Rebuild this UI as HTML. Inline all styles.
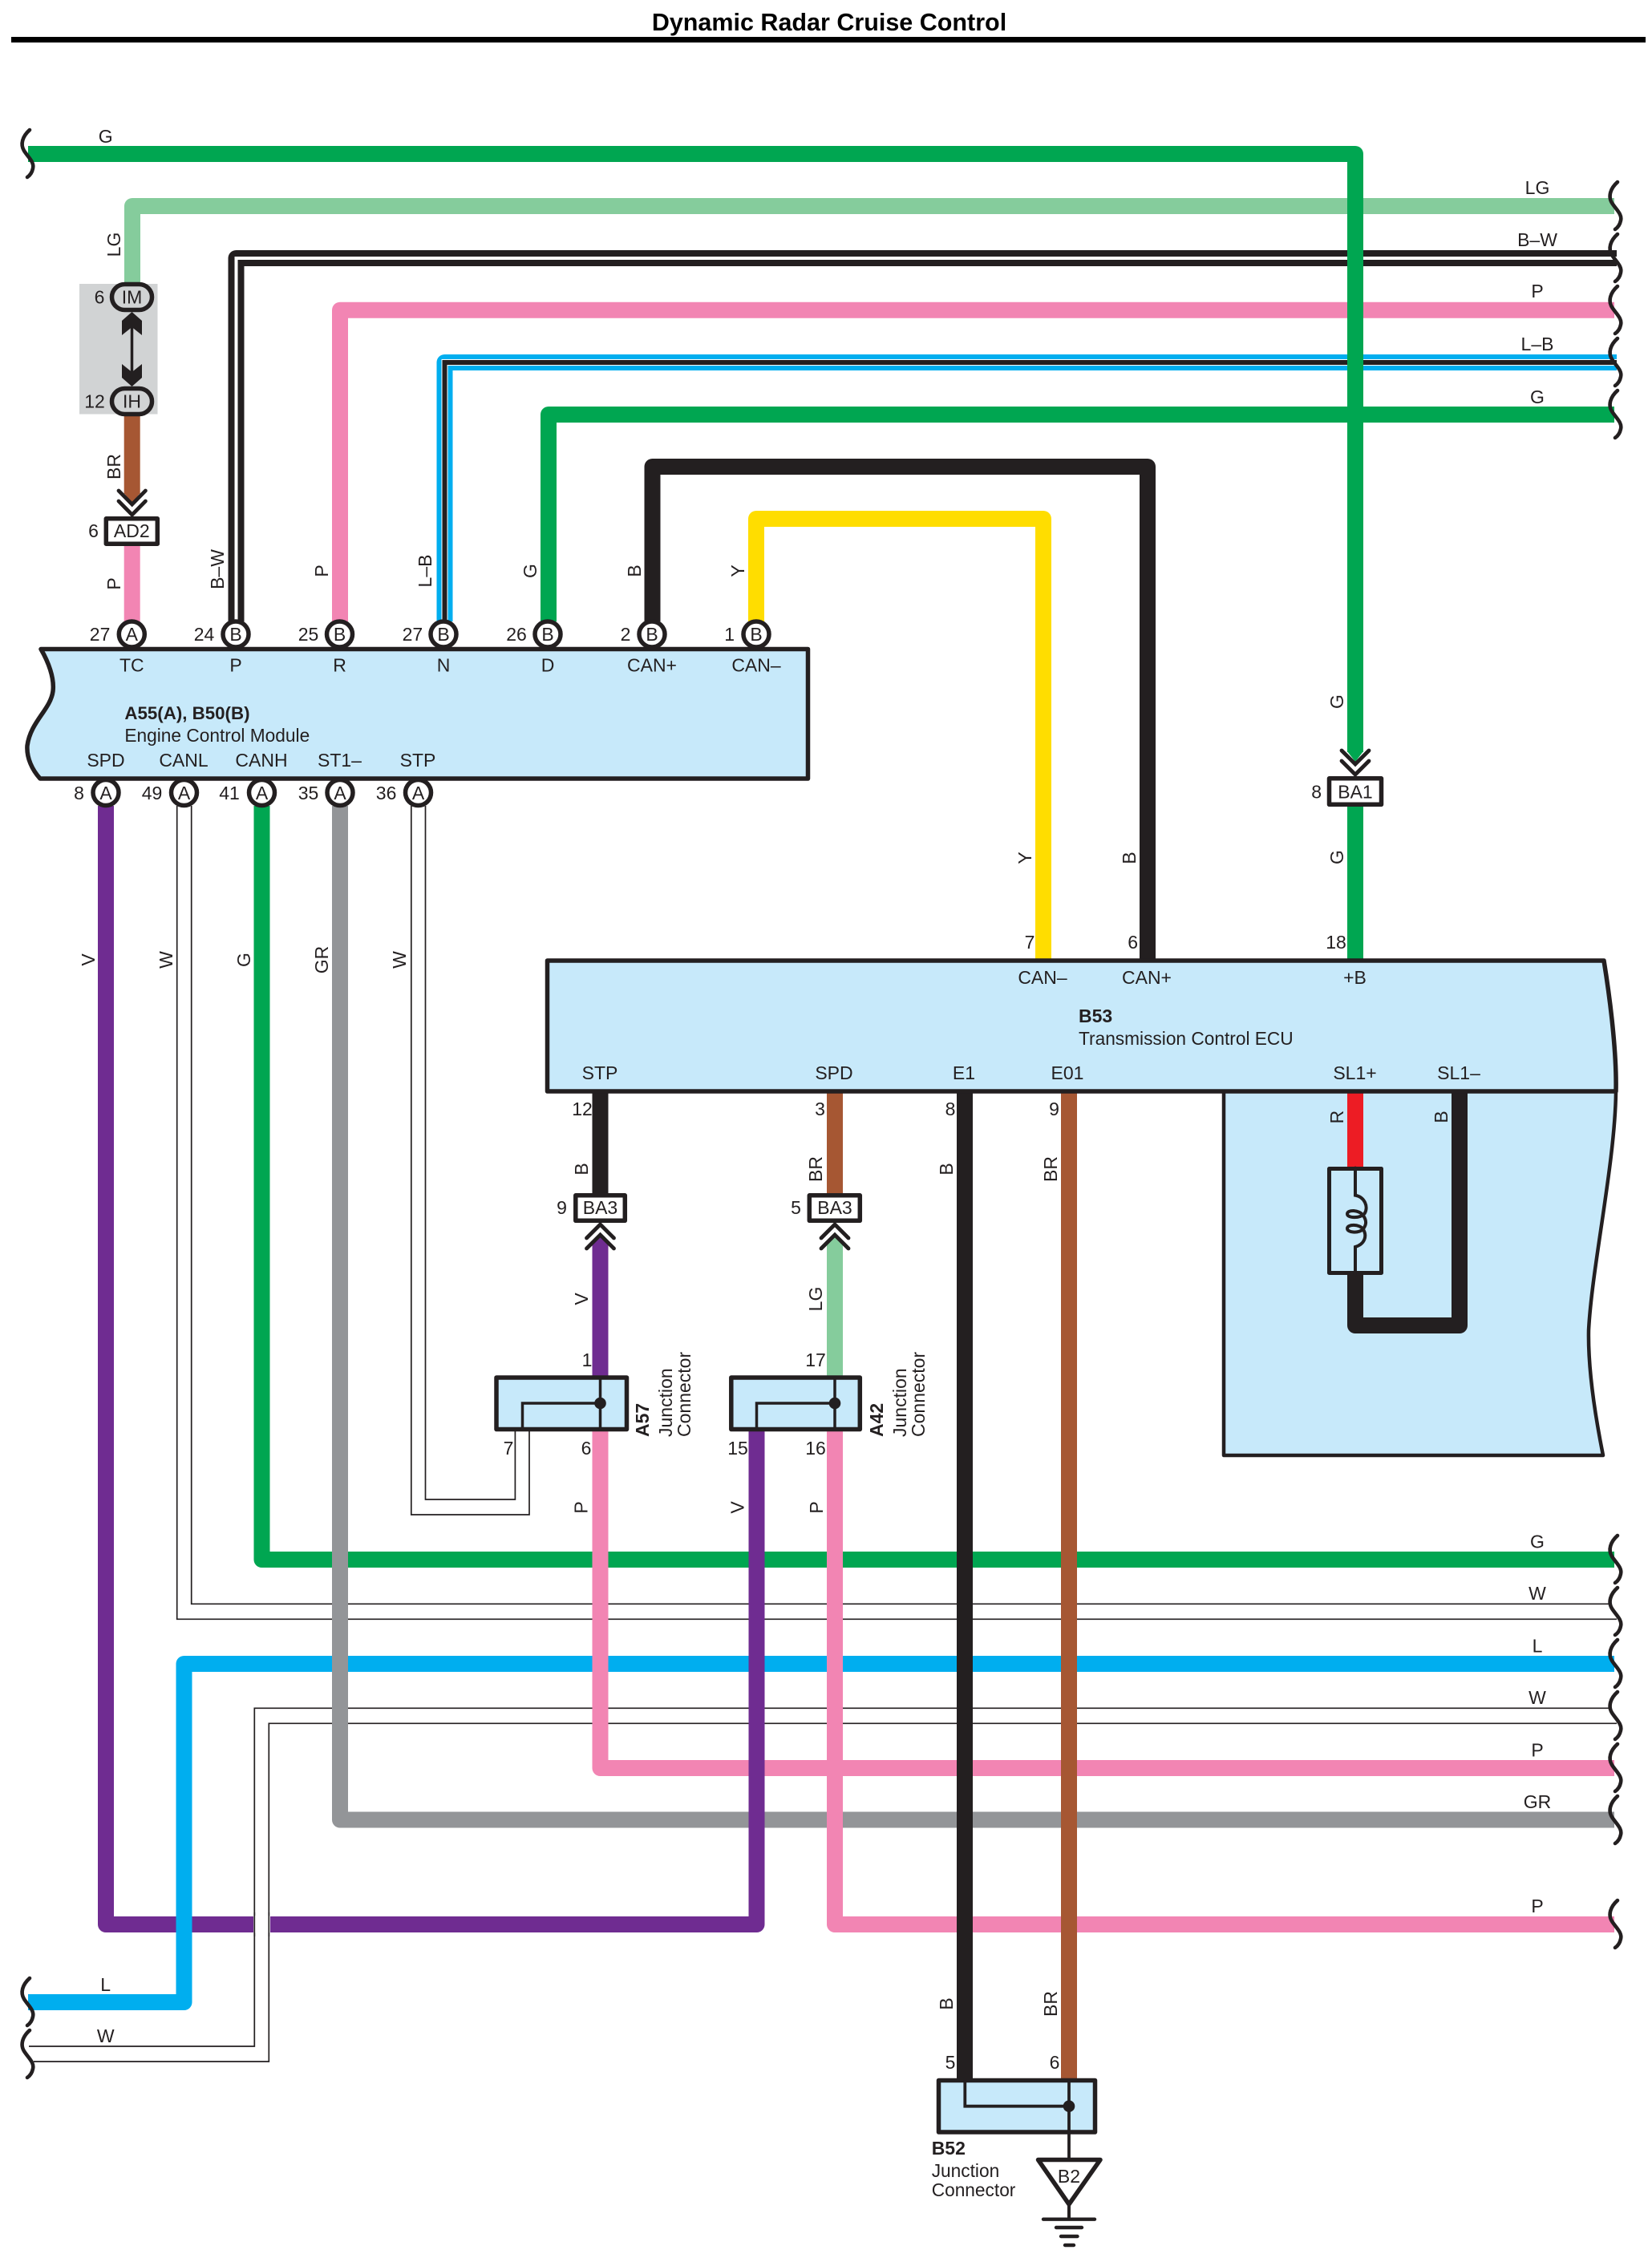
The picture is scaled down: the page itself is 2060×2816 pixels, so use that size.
<!DOCTYPE html>
<html>
<head>
<meta charset="utf-8">
<title>Dynamic Radar Cruise Control</title>
<style>
html,body{margin:0;padding:0;background:#fff;}
svg{display:block;}
text{font-family:"Liberation Sans",sans-serif;font-size:23px;fill:#231F20;text-anchor:middle;}
.s{text-anchor:start;}
.b{font-weight:bold;}
.w{fill:none;stroke-width:20;stroke-linejoin:round;}
.k{fill:none;stroke:#231F20;}
.th{fill:none;stroke:#231F20;stroke-width:1.7;}
.box{fill:#C7E9FA;stroke:#231F20;stroke-width:5.5;stroke-linejoin:round;}
.c{fill:#fff;stroke:#231F20;stroke-width:5.5;}
.ch{fill:none;stroke:#231F20;stroke-width:4.8;stroke-linecap:round;stroke-linejoin:miter;}
.sq{fill:none;stroke:#231F20;stroke-width:4.6;stroke-linecap:round;}
</style>
</head>
<body>
<svg xmlns="http://www.w3.org/2000/svg" width="2060" height="2816" viewBox="0 0 2060 2816">
<defs>
<path id="sq" class="sq" d="M3,-30 C-6,-22 -9,-12 -4,-4 C1,4 9,10 7,18 C6,23 3,27 0,29"/>
</defs>
<rect width="2060" height="2816" fill="#fff"/>

<text x="1034" y="38" class="b" style="font-size:30.5px;fill:#000">Dynamic Radar Cruise Control</text>
<rect x="14" y="46" width="2038" height="7" fill="#000"/>

<!-- thin W wires -->
<path class="th" d="M220.7 1005 V2019.3 H2016"/>
<path class="th" d="M238.7 1005 V2000.3 H2008"/>
<path class="th" d="M512.8 1005 V1889 H660 V1783"/>
<path class="th" d="M530.5 1005 V1870 H642.4 V1783"/>
<path class="th" d="M36 2552 H317.3 V2130.3 H2008"/>
<path class="th" d="M42 2571 H335.3 V2149.3 H2016"/>

<!-- top wires -->
<path class="w" stroke="#85CC9C" d="M165 355 V257 H2013"/>
<path class="w" stroke="#231F20" d="M294.5 775 V322 H2016"/>
<path fill="none" stroke="#fff" stroke-width="4" d="M294.5 775 V322 H2018"/>
<path class="w" stroke="#F285B3" d="M424 775 V386.7 H2013"/>
<path class="w" stroke="#00AEEF" d="M554.5 775 V452 H2016"/>
<path fill="none" stroke="#fff" stroke-width="8" d="M554.5 775 V452 H2016"/>
<path fill="none" stroke="#231F20" stroke-width="6" d="M554.5 775 V452 H2016"/>
<path class="w" stroke="#00A651" d="M684 775 V517 H2013"/>
<path class="w" stroke="#231F20" d="M813.5 775 V582 H1431 V1198"/>
<path class="w" stroke="#FFDD00" d="M943 775 V647 H1301 V1198"/>
<path class="w" stroke="#00A651" d="M35 192 H1690 V938"/>
<polygon fill="#00A651" points="1680,937 1700,937 1690,950"/>
<path class="w" stroke="#00A651" d="M1690 1004 V1198"/>

<!-- IM/IH -->
<rect x="99" y="354" width="97.5" height="162.5" fill="#D1D3D4"/>
<path class="w" stroke="#A65733" d="M164.7 515 V616"/>
<polygon fill="#A65733" points="154.7,615 174.7,615 164.7,627"/>
<path class="w" stroke="#F285B3" d="M164.7 678 V775"/>
<rect x="139.5" y="354.5" width="50" height="32" rx="16" class="c" style="fill:#D1D3D4"/>
<rect x="139.5" y="484.5" width="50" height="32" rx="16" class="c" style="fill:#D1D3D4"/>
<path stroke="#231F20" stroke-width="3.5" d="M164.5 400 V470"/>
<polygon fill="#231F20" points="164.5,389 177,400 177,418 164.5,408 152,418 152,400"/>
<polygon fill="#231F20" points="164.5,482 177,471 177,454 164.5,464 152,454 152,471"/>
<text x="164.5" y="378.5">IM</text>
<text x="164.5" y="508.5">IH</text>
<text x="124" y="378.5">6</text>
<text x="118" y="508.5">12</text>
<path class="ch" d="M148 612 L164.7 629 L181.4 612"/>
<path class="ch" d="M148 625 L164.7 642 L181.4 625"/>
<rect x="132.3" y="646.8" width="64" height="31.4" fill="#fff" stroke="#231F20" stroke-width="5.5" stroke-linejoin="round"/>
<text x="164.3" y="670">AD2</text>
<text x="116.5" y="670">6</text>

<!-- bottom bundle -->
<path class="w" stroke="#00A651" d="M326.5 1005 V1945 H2013"/>
<path class="w" stroke="#00AEEF" d="M35 2497 H229.5 V2075 H2013"/>
<path class="w" stroke="#F285B3" d="M748.5 1783 V2205 H2013"/>
<path class="w" stroke="#939598" d="M424 1005 V2269.5 H2013"/>
<path class="w" stroke="#F285B3" d="M1041 1783 V2400 H2013"/>
<path class="w" stroke="#6F2C91" d="M132 1005 V2400 H943.5 V1783"/>
<rect x="316" y="2389" width="21" height="21.5" fill="#fff"/>
<path class="th" d="M317.3 2385 V2415 M335.3 2385 V2415"/>
<path stroke="#00AEEF" stroke-width="20" d="M229.5 2385 V2420"/>

<!-- B53 lower box -->
<path d="M1526 1361 V1815 H1999 C1990 1770 1980 1710 1981 1659 C1985 1580 2014 1450 2015 1361 Z" fill="#C7E9FA" stroke="#231F20" stroke-width="4.5" stroke-linejoin="round"/>

<!-- vertical wires from B53 -->
<path class="w" stroke="#231F20" d="M1203 1361 V2595"/>
<path class="w" stroke="#A65733" d="M1333 1361 V2595"/>
<path class="w" stroke="#231F20" d="M748.5 1361 V1490"/>
<path class="w" stroke="#A65733" d="M1041 1361 V1490"/>
<path class="w" stroke="#6F2C91" d="M748.5 1552 V1718"/>
<polygon fill="#6F2C91" points="738.5,1553 758.5,1553 748.5,1541"/>
<path class="w" stroke="#85CC9C" d="M1041 1552 V1718"/>
<polygon fill="#85CC9C" points="1031,1553 1051,1553 1041,1541"/>

<!-- SL1 -->
<path stroke="#ED1C24" stroke-width="20" d="M1690 1361 V1458"/>
<path class="w" stroke="#231F20" d="M1690 1588 V1653 H1820 V1361"/>
<rect x="1657.5" y="1457.5" width="65" height="130" fill="none" stroke="#231F20" stroke-width="5" stroke-linejoin="round"/>
<g transform="translate(1640,1440) scale(0.3333)" fill="none" stroke="#231F20" stroke-width="12" stroke-linecap="round">
<path d="M150 50 V152 C185 158 200 195 185 220 C170 240 120 238 120 222 C120 205 165 205 180 228 C195 250 190 265 178 280 C160 295 120 292 120 276 C120 260 165 258 180 280 C195 305 185 335 150 345 V450"/>
</g>

<!-- ECM -->
<path d="M51 809.5 H1007.5 V971 H50 C40 960 33 945 34 930 C38 900 63 885 66 862 C68 845 60 825 51 809.5 Z" class="box"/>
<!-- B53 upper -->
<path d="M682.5 1198 H2000 C2010 1260 2016 1320 2015 1361 H682.5 Z" class="box"/>

<!-- ECM circles -->
<circle cx="164.3" cy="791" r="16" class="c"/>
<circle cx="294" cy="791" r="16" class="c"/>
<circle cx="423.5" cy="791" r="16" class="c"/>
<circle cx="553" cy="791" r="16" class="c"/>
<circle cx="683" cy="791" r="16" class="c"/>
<circle cx="813" cy="791" r="16" class="c"/>
<circle cx="943" cy="791" r="16" class="c"/>
<text x="164.3" y="799">A</text><text x="294" y="799">B</text><text x="423.5" y="799">B</text><text x="553" y="799">B</text><text x="683" y="799">B</text><text x="813" y="799">B</text><text x="943" y="799">B</text>
<text x="124.6" y="799">27</text><text x="254.5" y="799">24</text><text x="384.5" y="799">25</text><text x="514.4" y="799">27</text><text x="644" y="799">26</text><text x="780" y="799">2</text><text x="909.6" y="799">1</text>
<text x="164.3" y="837.5">TC</text><text x="294" y="837.5">P</text><text x="423.5" y="837.5">R</text><text x="553" y="837.5">N</text><text x="683" y="837.5">D</text><text x="813" y="837.5">CAN+</text><text x="943" y="837.5">CAN–</text>
<text x="155.4" y="897" class="s b" style="font-size:22.3px">A55(A), B50(B)</text>
<text x="155.4" y="925" class="s" style="font-size:22.7px">Engine Control Module</text>
<text x="132" y="956">SPD</text><text x="229" y="956">CANL</text><text x="326" y="956">CANH</text><text x="423.5" y="956">ST1–</text><text x="521" y="956">STP</text>
<circle cx="132" cy="988.5" r="16" class="c"/>
<circle cx="229.5" cy="988.5" r="16" class="c"/>
<circle cx="326.5" cy="988.5" r="16" class="c"/>
<circle cx="424" cy="988.5" r="16" class="c"/>
<circle cx="521.5" cy="988.5" r="16" class="c"/>
<text x="132" y="997">A</text><text x="229.5" y="997">A</text><text x="326.5" y="997">A</text><text x="424" y="997">A</text><text x="521.5" y="997">A</text>
<text x="98.5" y="997">8</text><text x="189.5" y="997">49</text><text x="286" y="997">41</text><text x="384.5" y="997">35</text><text x="481.6" y="997">36</text>

<!-- BA1 -->
<path class="ch" d="M1673 936 L1690 953 L1707 936"/>
<path class="ch" d="M1673 949 L1690 966 L1707 949"/>
<rect x="1657.5" y="970.8" width="65" height="32.5" fill="#fff" stroke="#231F20" stroke-width="5.5" stroke-linejoin="round"/>
<text x="1690" y="995.5">BA1</text>
<text x="1641.7" y="995.5">8</text>

<!-- B53 text -->
<text x="1300" y="1227">CAN–</text><text x="1430" y="1227">CAN+</text><text x="1689.5" y="1227">+B</text>
<text x="1345" y="1275" class="s b">B53</text>
<text x="1345" y="1303" class="s" style="font-size:22.7px">Transmission Control ECU</text>
<text x="748" y="1346">STP</text><text x="1040" y="1346">SPD</text><text x="1202" y="1346">E1</text><text x="1331" y="1346">E01</text><text x="1689.5" y="1346">SL1+</text><text x="1819" y="1346">SL1–</text>
<text x="1284" y="1183">7</text><text x="1412.7" y="1183">6</text><text x="1666" y="1183">18</text>
<text x="726" y="1391">12</text><text x="1022.5" y="1391">3</text><text x="1185" y="1391">8</text><text x="1314.5" y="1391">9</text>

<!-- BA3 -->
<rect x="717.8" y="1490.8" width="61.5" height="31.5" fill="#fff" stroke="#231F20" stroke-width="5.5" stroke-linejoin="round"/>
<rect x="1009.3" y="1490.8" width="63" height="31.5" fill="#fff" stroke="#231F20" stroke-width="5.5" stroke-linejoin="round"/>
<text x="748.5" y="1514">BA3</text><text x="1041" y="1514">BA3</text>
<text x="700.5" y="1514">9</text><text x="992.5" y="1514">5</text>
<path class="ch" d="M731.5 1544 L748.5 1527 L765.5 1544"/>
<path class="ch" d="M731.5 1557 L748.5 1540 L765.5 1557"/>
<path class="ch" d="M1024 1544 L1041 1527 L1058 1544"/>
<path class="ch" d="M1024 1557 L1041 1540 L1058 1557"/>

<!-- A57 / A42 -->
<rect x="619" y="1718" width="162.5" height="64.5" class="box"/>
<rect x="911.8" y="1718" width="160.5" height="64.5" class="box"/>
<path class="k" stroke-width="3.5" d="M748.5 1718 V1783 M748.5 1750 H651.5 V1783"/>
<path class="k" stroke-width="3.5" d="M1041 1718 V1783 M1041 1750 H943.5 V1783"/>
<circle cx="748.5" cy="1750" r="7.3" fill="#231F20"/>
<circle cx="1041" cy="1750" r="7.3" fill="#231F20"/>
<text x="732" y="1704">1</text><text x="1017" y="1704">17</text>
<text x="731" y="1814">6</text><text x="634" y="1814">7</text><text x="920" y="1814">15</text><text x="1017" y="1814">16</text>
<text transform="translate(809,1792) rotate(-90)" class="s b">A57</text>
<text transform="translate(838,1792) rotate(-90)" class="s">Junction</text>
<text transform="translate(861,1792) rotate(-90)" class="s">Connector</text>
<text transform="translate(1101,1792) rotate(-90)" class="s b">A42</text>
<text transform="translate(1130,1792) rotate(-90)" class="s">Junction</text>
<text transform="translate(1153,1792) rotate(-90)" class="s">Connector</text>

<!-- B52 -->
<rect x="1170.5" y="2594.5" width="195" height="64.5" class="box"/>
<path class="k" stroke-width="3.8" d="M1203.3 2594 V2626.7 H1333 M1333 2594 V2695"/>
<circle cx="1333" cy="2626.7" r="7.3" fill="#231F20"/>
<polygon points="1294.5,2693.5 1372,2693.5 1333,2749" fill="#fff" stroke="#231F20" stroke-width="5.5" stroke-linejoin="round"/>
<text x="1333" y="2722">B2</text>
<path class="k" stroke-width="4" d="M1333 2749 V2767"/>
<path class="k" stroke-width="4.4" stroke-linecap="round" d="M1301 2767.7 H1365 M1317 2778 H1349 M1323 2789 H1343.5 M1328 2800 H1339"/>
<text x="1185" y="2580">5</text><text x="1315" y="2580">6</text>
<text x="1161.7" y="2687" class="s b">B52</text>
<text x="1161.7" y="2715" class="s" style="font-size:22.7px">Junction</text>
<text x="1161.7" y="2739" class="s" style="font-size:22.7px">Connector</text>

<!-- wire labels horizontal -->
<text x="131.7" y="178">G</text>
<text x="1917" y="242">LG</text><text x="1917" y="307">B–W</text><text x="1917" y="371">P</text><text x="1917" y="437">L–B</text><text x="1917" y="503">G</text>
<text x="1917" y="1930.7">G</text><text x="1917" y="1995">W</text><text x="1917" y="2060.7">L</text><text x="1917" y="2125">W</text><text x="1917" y="2190.7">P</text><text x="1917" y="2255">GR</text><text x="1917" y="2385">P</text>
<text x="131.7" y="2483">L</text><text x="131.7" y="2547">W</text>

<!-- rotated labels -->
<g>
<text transform="translate(150,305) rotate(-90)">LG</text>
<text transform="translate(150,582) rotate(-90)">BR</text>
<text transform="translate(150,728) rotate(-90)">P</text>
<text transform="translate(279,710) rotate(-90)">B–W</text>
<text transform="translate(409,712) rotate(-90)">P</text>
<text transform="translate(538,712) rotate(-90)">L–B</text>
<text transform="translate(669,712) rotate(-90)">G</text>
<text transform="translate(799,712) rotate(-90)">B</text>
<text transform="translate(928,712) rotate(-90)">Y</text>
<text transform="translate(1286,1070) rotate(-90)">Y</text>
<text transform="translate(1416,1070) rotate(-90)">B</text>
<text transform="translate(1675,875) rotate(-90)">G</text>
<text transform="translate(1675,1069) rotate(-90)">G</text>
<text transform="translate(118,1197) rotate(-90)">V</text>
<text transform="translate(215,1197) rotate(-90)">W</text>
<text transform="translate(312,1197) rotate(-90)">G</text>
<text transform="translate(409,1197) rotate(-90)">GR</text>
<text transform="translate(506,1197) rotate(-90)">W</text>
<text transform="translate(733,1458) rotate(-90)">B</text>
<text transform="translate(1025,1458) rotate(-90)">BR</text>
<text transform="translate(1188,1458) rotate(-90)">B</text>
<text transform="translate(1318,1458) rotate(-90)">BR</text>
<text transform="translate(1675,1393) rotate(-90)">R</text>
<text transform="translate(1805,1393) rotate(-90)">B</text>
<text transform="translate(733,1620) rotate(-90)">V</text>
<text transform="translate(1025,1620) rotate(-90)">LG</text>
<text transform="translate(732.5,1880) rotate(-90)">P</text>
<text transform="translate(927.5,1880) rotate(-90)">V</text>
<text transform="translate(1026,1880) rotate(-90)">P</text>
<text transform="translate(1188,2499) rotate(-90)">B</text>
<text transform="translate(1318,2499) rotate(-90)">BR</text>
</g>

<!-- squiggles -->
<use href="#sq" transform="translate(2014,257)"/>
<use href="#sq" transform="translate(2014,322)"/>
<use href="#sq" transform="translate(2014,387)"/>
<use href="#sq" transform="translate(2014,452)"/>
<use href="#sq" transform="translate(2014,517)"/>
<use href="#sq" transform="translate(2014,1945)"/>
<use href="#sq" transform="translate(2014,2010)"/>
<use href="#sq" transform="translate(2014,2075)"/>
<use href="#sq" transform="translate(2014,2140)"/>
<use href="#sq" transform="translate(2014,2205)"/>
<use href="#sq" transform="translate(2014,2270)"/>
<use href="#sq" transform="translate(2014,2400)"/>
<use href="#sq" transform="translate(34,192)"/>
<use href="#sq" transform="translate(34,2497)"/>
<use href="#sq" transform="translate(34,2562)"/>
</svg>
</body>
</html>
